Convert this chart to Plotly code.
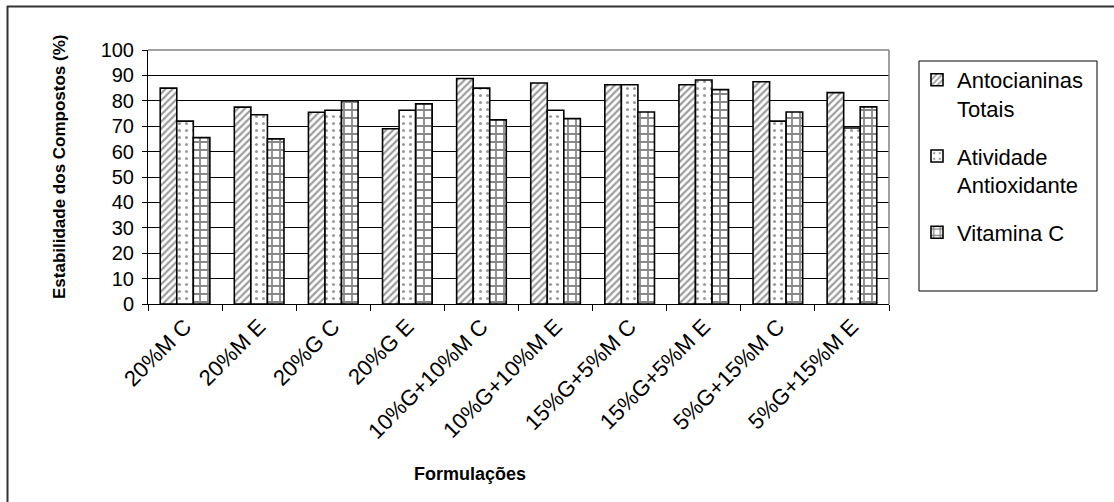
import plotly.graph_objects as go

# Formulations and compound stability (%)
formulacoes = ["20%M C", "20%M E", "20%G C", "20%G E", "10%G+10%M C",
               "10%G+10%M E", "15%G+5%M C", "15%G+5%M E", "5%G+15%M C",
               "5%G+15%M E"]
antocianinas = [85, 77.5, 75.5, 69, 88.8, 87, 86.3, 86.3, 87.5, 83.2]
atividade = [72, 74.5, 76.3, 76.3, 85, 76.3, 86.3, 88.2, 72, 69.3]
vitamina_c = [65.5, 65, 80, 78.8, 72.5, 73, 75.6, 84.4, 75.6, 77.6]

series_names = ["Antocianinas<br>Totais", "Atividade<br>Antioxidante", "Vitamina C"]

W, H = 1114, 502
L, R, T, B = 148, 889, 50, 304  # plot area in pixels
PW, PH = R - L, B - T


def px_x(x):
    return (x - L) / PW


def px_y(y):
    return (B - y) / PH


FONT = "Liberation Sans, Arial, sans-serif"

fig = go.Figure()

patterns = [
    dict(shape="/", fgcolor="#3a3a3a", bgcolor="white", size=5, solidity=0.45),
    dict(shape=".", fgcolor="#333333", bgcolor="white", size=7, solidity=0.15),
    dict(shape="+", fgcolor="#111111", bgcolor="white", size=8, solidity=0.4),
]

for i, (name, vals) in enumerate(zip(series_names, [antocianinas, atividade, vitamina_c])):
    fig.add_trace(go.Bar(
        x=formulacoes, y=vals, name=name, legendgroup=f"g{i}",
        marker=dict(color="white", line=dict(color="black", width=1.6),
                    pattern=patterns[i]),
    ))

shapes = [
    # plot area border (top and right)
    dict(type="line", xref="paper", yref="paper", x0=0, x1=1, y0=1, y1=1,
         line=dict(color="#808080", width=1.5), layer="above"),
    dict(type="line", xref="paper", yref="paper", x0=1, x1=1, y0=0, y1=1,
         line=dict(color="#808080", width=1.5), layer="above"),
    # legend frame
    dict(type="rect", xref="paper", yref="paper",
         x0=px_x(919), x1=px_x(1097), y0=px_y(291), y1=px_y(61),
         line=dict(color="black", width=1), fillcolor="rgba(0,0,0,0)"),
    # chart frame (top and left edges)
    dict(type="line", xref="paper", yref="paper",
         x0=px_x(7), x1=px_x(1114), y0=px_y(6.5), y1=px_y(6.5),
         line=dict(color="#333333", width=2)),
    dict(type="line", xref="paper", yref="paper",
         x0=px_x(7.5), x1=px_x(7.5), y0=px_y(6), y1=px_y(502),
         line=dict(color="#333333", width=2)),
]

annotations = [
    dict(text="<b>Estabilidade dos Compostos (%)</b>", textangle=-90,
         xref="paper", yref="paper", x=px_x(59), y=px_y(167),
         showarrow=False, font=dict(family=FONT, size=17, color="black"),
         xanchor="center", yanchor="middle"),
    dict(text="<b>Formulações</b>",
         xref="paper", yref="paper", x=px_x(470), y=px_y(474),
         showarrow=False, font=dict(family=FONT, size=18, color="black"),
         xanchor="center", yanchor="middle"),
]

fig.update_layout(
    width=W, height=H,
    margin=dict(l=L, r=W - R, t=T, b=H - B, autoexpand=False),
    paper_bgcolor="white", plot_bgcolor="white",
    barmode="group", bargap=0.33, bargroupgap=0,
    font=dict(family=FONT, size=18, color="black"),
    showlegend=True,
    legend=dict(x=px_x(917), y=px_y(59), xanchor="left", yanchor="top",
                bgcolor="rgba(0,0,0,0)", borderwidth=0,
                font=dict(family=FONT, size=22, color="black"),
                valign="top", tracegroupgap=16, traceorder="grouped",
                itemwidth=30),
    xaxis=dict(type="category", tickson="boundaries", ticks="outside",
               ticklen=6, tickcolor="black", tickangle=-45,
               showline=True, linecolor="black", linewidth=1,
               showgrid=False, tickfont=dict(family=FONT, size=22, color="black")),
    yaxis=dict(range=[0, 100], dtick=10, ticks="outside", ticklen=5,
               tickcolor="black", showline=True, linecolor="black",
               linewidth=1, showgrid=True, gridcolor="black", gridwidth=1,
               zeroline=False, ticklabelstandoff=4,
               tickfont=dict(family=FONT, size=20, color="black")),
    shapes=shapes,
    annotations=annotations,
)

fig.write_html("out.html")
